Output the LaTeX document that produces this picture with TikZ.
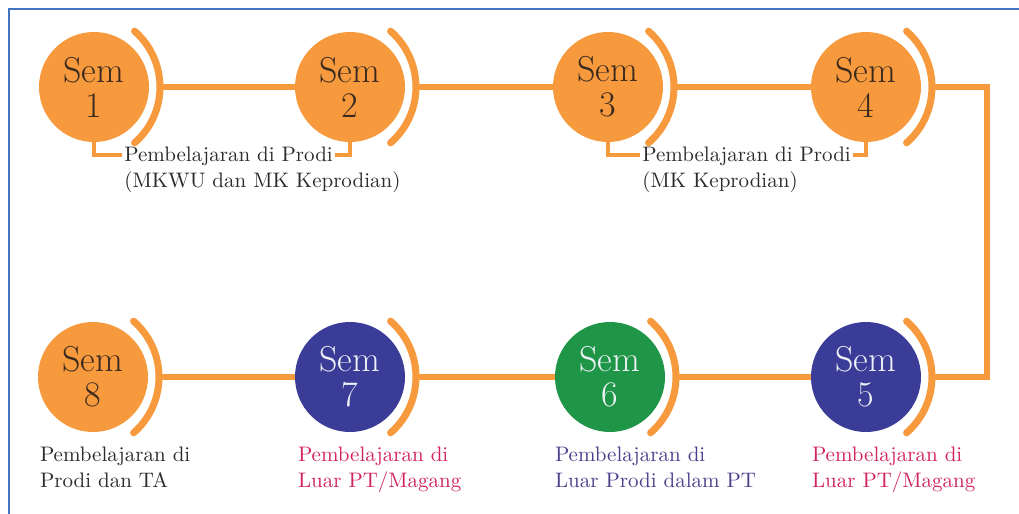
\documentclass[tikz,border=0pt]{standalone}
\usetikzlibrary{positioning}
\usetikzlibrary{calc}
\definecolor{semorange}{HTML}{F79A3E}
\definecolor{semnavy}{HTML}{3B3B98}
\definecolor{semgreen}{HTML}{1F9548}
\definecolor{semdark}{HTML}{3A2A1E}
\definecolor{semlight}{HTML}{EEF1F6}
\definecolor{capred}{HTML}{D2245A}
\definecolor{cappurple}{HTML}{4B3F8C}
\definecolor{capblack}{HTML}{2B2B2B}
\definecolor{frameblue}{HTML}{4472C4}
\tikzset{sem/.style = {circle, minimum size = 55pt, inner sep = 0, align = center,
                       font = \fontsize{18}{17.5}\selectfont}}
\tikzset{arcline/.style = {draw = semorange, line width = 3.5pt, line cap = round}}
\tikzset{link/.style = {draw = semorange, line width = 2.6pt}}
\tikzset{hook/.style = {draw = semorange, line width = 2pt}}
\tikzset{note/.style = {inner ysep = 0, inner xsep = 1pt, align = left, text = capblack,
                        text height = 9.5pt, text depth = 3.5pt,
                        font = \fontsize{10.5}{13}\selectfont}}
\tikzset{duty/.style = {inner sep = 0, align = left, text = capblack, anchor = north west,
                        font = \fontsize{10.5}{13}\selectfont}}

\begin{document}
\begin{tikzpicture}[x=0.5pt, y=-0.5pt]
    \useasboundingbox (0,0) rectangle (1019,514);
    \draw [frameblue, line width=1.2pt] (9,9) rectangle (1040,540);
    % semester circles with their side arcs
    \foreach \n/\x/\y/\fc/\tc in {1/94/87/semorange/semdark, 2/350/87/semorange/semdark,
                                 3/608/87/semorange/semdark, 4/866/87/semorange/semdark,
                                 5/866/377/semnavy/semlight, 6/610/377/semgreen/semlight,
                                 7/350/377/semnavy/semlight, 8/93/377/semorange/semdark} {
      \node [sem, fill=\fc, text=\tc] (s\n) at (\x, \y) {Sem\\\n};
      \coordinate (a\n) at ([xshift=33pt]s\n.center);
      \draw [arcline] ([shift={(-49:74)}, xshift=-4pt]s\n.center) arc [start angle=-49, end angle=49, radius=74];
    }
    % connectors
    \draw [link] (a1) -- (s2.west);
    \draw [link] (a2) -- (s3.west);
    \draw [link] (a3) -- (s4.west);
    \coordinate (edge) at (987, 230);
    \draw [link] (a4) -| (edge) |- (a5);
    \draw [link] (a6) -- (s5.west);
    \draw [link] (a7) -- (s6.west);
    \draw [link] (a8) -- (s7.west);
    % top captions
    \node [note, anchor=west] (p12) at (122, 155) {Pembelajaran di Prodi};
    \node [note, anchor=north west] (q12) at (p12.south west) {(MKWU dan MK Keprodian)};
    \node [note, anchor=west] (p34) at (640, 155) {Pembelajaran di Prodi};
    \node [note, anchor=north west] (q34) at (p34.south west) {(MK Keprodian)};
    \draw [hook] (s1.south) |- (p12.west);
    \draw [hook] (p12.east) -| (s2.south);
    \draw [hook] (s3.south) |- (p34.west);
    \draw [hook] (p34.east) -| (s4.south);
    % bottom captions
    \node [duty] (l8) at ($(s8.west |- s8.south)+(2,14)$) {Pembelajaran di\\Prodi dan TA};
    \node [duty, text=capred] (l7) at ($(s7.west |- s7.south)+(3,14)$) {Pembelajaran di\\Luar PT/Magang};
    \node [duty, text=cappurple] (l6) at ($(s6.west |- s6.south)+(0,14)$) {Pembelajaran di\\Luar Prodi dalam PT};
    \node [duty, text=capred] (l5) at ($(s5.west |- s5.south)+(1,14)$) {Pembelajaran di\\Luar PT/Magang};
\end{tikzpicture}
\end{document}
